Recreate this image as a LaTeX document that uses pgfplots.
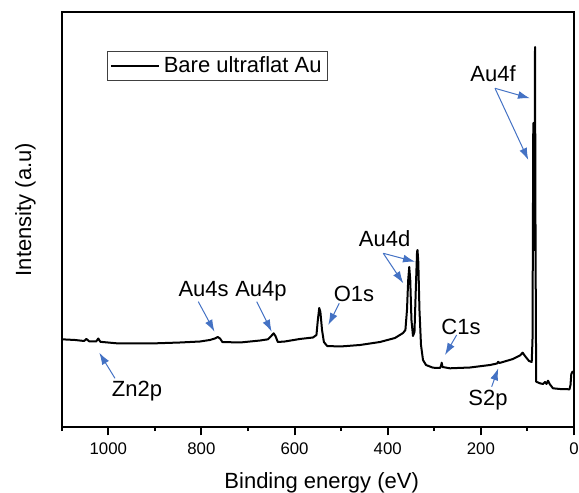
\documentclass[border=0pt]{standalone}
\usepackage{fontspec}
\setmainfont{Liberation Sans}
\usepackage{pgfplots}
\pgfplotsset{compat=1.18}
\usetikzlibrary{arrows.meta}
\definecolor{arrowblue}{HTML}{4472C4}
\begin{document}
\begin{tikzpicture}
\path[use as bounding box] (-30.85pt,-33.1pt) rectangle (258.65pt,213.4pt);
\begin{axis}[
  at={(0,0)}, anchor=south west,
  scale only axis, width=256.15pt, height=207.25pt,
  x dir=reverse, xmin=0, xmax=1100, ymin=0, ymax=414.5,
  axis line style={line width=1pt},
  xtick={0,200,400,600,800,1000},
  minor xtick={100,300,500,700,900,1100},
  xtick pos=bottom, tick align=outside,
  major tick length=4.3pt, minor tick length=2.2pt,
  every tick/.style={black, line width=1pt},
  ytick=\empty,
  /pgf/number format/assume math mode=true,
  /pgf/number format/1000 sep={},
  xticklabel style={font=\fontsize{8.4}{10}\selectfont},
  xlabel={Binding energy (eV)},
  ylabel={Intensity (a.u)},
  xlabel style={font=\fontsize{11}{13}\selectfont, at={([yshift=-30.75pt]rel axis cs:0.5075,0)}, anchor=base},
  ylabel style={font=\fontsize{11}{13}\selectfont, at={([xshift=-15.3pt]rel axis cs:0,0.524)}, anchor=base, rotate=0},
  clip=false,
  legend style={at={(0.089,0.907)}, anchor=north west, draw=black!75, line width=0.5pt,
    inner xsep=1pt, inner ysep=0.5pt, font=\fontsize{11}{13}\selectfont},
  legend cell align=left,
  legend image code/.code={\draw[line width=1pt] (0pt,0pt) -- (24pt,0pt);},
]
\addplot[black, line width=1pt, line join=round] coordinates {
(1100,87.5) (1071,86.8) (1052,85.8) (1047,87.8) (1041,85.5) (1026,85.3) (1021.5,88.3) (1017,85)
(982,83.5) (910,83.3) (846,84.3) (803,85.3) (782,86.8) (771,88.3) (765,89.8) (760,88.3) (755,84.8)
(717,84.3) (674,86.3) (657,87.5) (651,90.3) (645,93.5) (641,90.8) (636,84.8) (621,85.3) (589,87.8)
(560.5,89.3) (553,91.8) (550,106.8) (547,118.8) (544.5,114.8) (541,96.8) (537,84.8) (530,80.8)
(502,80.3) (459.5,81.8) (416.6,84.8) (384.4,88.8) (367,93.8) (362,96.8) (358.6,116.8) (356,146.8)
(353.7,159.8) (351.6,146.8) (349,106.8) (345.7,90.8) (342.5,94.8) (339.7,136.8) (337,174.8)
(336,176.8) (334.3,164.8) (331.8,116.8) (328.5,81.8) (324.2,66.8) (317.8,61.8) (302.8,59.1)
(287.7,58.8) (285.6,60.8) (284,64.1) (282.4,59.8) (266.3,58.5) (223.3,59.3) (180.4,61.8)
(165.3,63.3) (162.6,65) (160,63.8) (131,67.8) (116,71.3) (110.2,74.1) (105.2,70.8) (96.6,65.8)
(90.8,64.8) (89.1,86.8) (88,226.8) (87.4,303.8) (86.3,226.8) (85,176.8) (83.7,379.8) (82.5,176.8)
(81.2,45.1) (73,43.5) (66.6,42.8) (62.3,44.8) (59,42.8) (55.8,46.1) (51.5,42.3) (45.1,38.5)
(30,37.8) (9.7,37.5) (7.5,41.8) (5.8,52.8) (3.2,55.1) (0,54.3)
};
\addlegendentry{Bare ultraflat Au}
% annotations
\tikzset{lbl/.style={anchor=base, inner sep=0pt, font=\fontsize{11}{13}\selectfont},
         arr/.style={arrowblue, line width=0.5pt, -{Latex[length=6pt,width=4pt]}}}
\node[lbl] at (axis cs:173.9,345.1) {Au4f};
\draw[arr] (axis cs:169.6,338.5) -- (axis cs:94.5,328.5);
\draw[arr] (axis cs:169.6,338.5) -- (axis cs:98.1,266.8);
\node[lbl] at (axis cs:406.5,180.1) {Au4d};
\draw[arr] (axis cs:409.5,173.5) -- (axis cs:341.4,165.1);
\draw[arr] (axis cs:409.5,173.5) -- (axis cs:366.5,143.5);
\node[lbl] at (axis cs:472.4,125.1) {O1s};
\draw[arr] (axis cs:504,123.5) -- (axis cs:527.6,101.8);
\node[lbl] at (axis cs:242.6,92.8) {C1s};
\draw[arr] (axis cs:251.9,91.8) -- (axis cs:277,71.8);
\node[lbl] at (axis cs:184.7,21.8) {S2p};
\draw[arr] (axis cs:176.7,40.1) -- (axis cs:162.6,58.5);
\node[lbl] at (axis cs:938.4,30.1) {Zn2p};
\draw[arr] (axis cs:985.6,48.5) -- (axis cs:1019.3,74.1);
\node[lbl] at (axis cs:795.2,130.1) {Au4s};
\draw[arr] (axis cs:806.7,125.1) -- (axis cs:771.9,95.1);
\node[lbl] at (axis cs:672.1,130.1) {Au4p};
\draw[arr] (axis cs:681.3,125.1) -- (axis cs:649.1,95.1);
\end{axis}
\end{tikzpicture}
\end{document}
